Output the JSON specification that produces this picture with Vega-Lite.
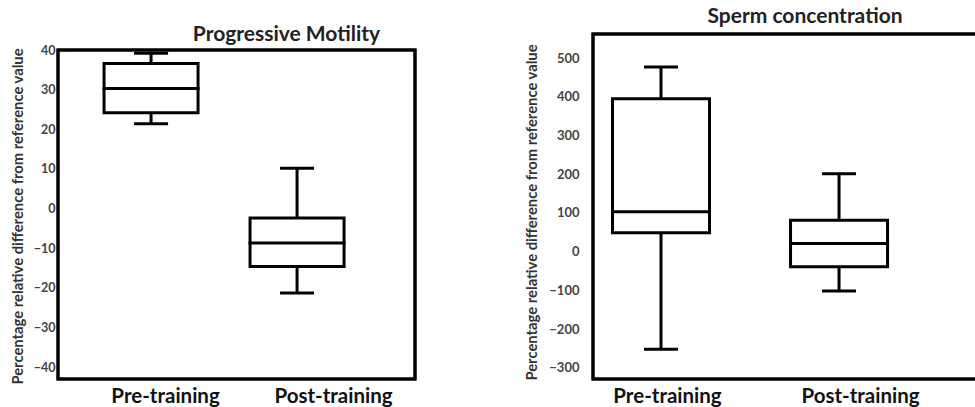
{
  "$schema": "https://vega.github.io/schema/vega-lite/v6.json",
  "padding": {"left": 10, "top": 5, "right": 0, "bottom": 0},
  "spacing": 107,
  "config": {
    "font": "Lato",
    "view": {"stroke": null},
    "title": {"font": "Lato", "fontWeight": "bold", "fontSize": 21, "color": "#222"},
    "axis": {"grid": false, "domain": false, "ticks": false, "labelFont": "Lato", "titleFont": "Lato"}
  },
  "hconcat": [
    {
      "width": 357,
      "height": 345,
      "title": {"text": "Progressive Motility", "dx": 50, "dy": 19, "anchor": "middle", "offset": 8},
      "data": {"values": [
        {"group": "Pre-training", "min": 21.4, "q1": 24.2, "median": 30.3, "q3": 36.6, "max": 39.2},
        {"group": "Post-training", "min": -21.3, "q1": -14.6, "median": -8.7, "q3": -2.4, "max": 10.2}
      ]},
      "layer": [
        {"mark": {"type": "rect", "fillOpacity": 0, "stroke": "black", "strokeWidth": 3},
         "encoding": {"y": {"datum": 40, "type": "quantitative", "scale": {"domain": [-43, 44.04], "nice": false, "zero": false},
           "axis": {"values": [-40, -30, -20, -10, 0, 10, 20, 30, 40], "labelFontSize": 12.5, "labelFontWeight": "bold", "labelColor": "#444", "labelPadding": 3,
             "title": "Percentage relative difference from reference value", "titleFontSize": 14.8, "titleFontWeight": "bold", "titleColor": "#333", "titlePadding": 8, "titleY": 182}},
           "y2": {"datum": -43}}},
        {"mark": {"type": "rule", "strokeWidth": 3, "color": "black"},
         "encoding": {
           "x": {"field": "group", "type": "nominal", "sort": ["Pre-training", "Post-training"],
             "scale": {"type": "point", "padding": 0.7226, "align": 0.441},
             "axis": {"title": null, "labelAngle": 0, "labelFontSize": 20.5, "labelFontWeight": "bold", "labelColor": "#111", "labelPadding": 7,
               "labelOffset": {"expr": "datum.value === 'Pre-training' ? 14 : 36"}}},
           "y": {"field": "min", "type": "quantitative"}, "y2": {"field": "q1"}}},
        {"mark": {"type": "rule", "strokeWidth": 3, "color": "black"},
         "encoding": {"x": {"field": "group", "type": "nominal", "sort": ["Pre-training", "Post-training"]},
           "y": {"field": "q3", "type": "quantitative"}, "y2": {"field": "max"}}},
        {"mark": {"type": "tick", "size": 34, "thickness": 3, "color": "black", "opacity": 1},
         "encoding": {"x": {"field": "group", "type": "nominal", "sort": ["Pre-training", "Post-training"]},
           "y": {"field": "min", "type": "quantitative"}}},
        {"mark": {"type": "tick", "size": 34, "thickness": 3, "color": "black", "opacity": 1},
         "encoding": {"x": {"field": "group", "type": "nominal", "sort": ["Pre-training", "Post-training"]},
           "y": {"field": "max", "type": "quantitative"}}},
        {"mark": {"type": "bar", "size": 94, "fill": "white", "stroke": "black", "strokeWidth": 3},
         "encoding": {"x": {"field": "group", "type": "nominal", "sort": ["Pre-training", "Post-training"]},
           "y": {"field": "q1", "type": "quantitative"}, "y2": {"field": "q3"}}},
        {"mark": {"type": "tick", "size": 97, "thickness": 3, "color": "black", "opacity": 1},
         "encoding": {"x": {"field": "group", "type": "nominal", "sort": ["Pre-training", "Post-training"]},
           "y": {"field": "median", "type": "quantitative"}}}
      ]
    },
    {
      "width": 386,
      "height": 345,
      "title": {"text": "Sperm concentration", "dx": 19, "dy": 2, "anchor": "middle", "offset": 8},
      "data": {"values": [
        {"group": "Pre-training", "min": -252, "q1": 49, "median": 103, "q3": 395, "max": 477},
        {"group": "Post-training", "min": -102, "q1": -39, "median": 21, "q3": 81, "max": 201}
      ]},
      "layer": [
        {"mark": {"type": "rect", "fillOpacity": 0, "stroke": "black", "strokeWidth": 3},
         "encoding": {"y": {"datum": 562, "type": "quantitative", "scale": {"domain": [-329, 562], "nice": false, "zero": false},
           "axis": {"values": [-300, -200, -100, 0, 100, 200, 300, 400, 500], "labelFontSize": 13, "labelFontWeight": "bold", "labelColor": "#444", "labelPadding": 14,
             "title": "Percentage relative difference from reference value", "titleFontSize": 14.8, "titleFontWeight": "bold", "titleColor": "#333", "titlePadding": 9, "titleY": 178}},
           "y2": {"datum": -329}}},
        {"mark": {"type": "rule", "strokeWidth": 3, "color": "black"},
         "encoding": {
           "x": {"field": "group", "type": "nominal", "sort": ["Pre-training", "Post-training"],
             "scale": {"type": "point", "padding": 0.584, "align": 0.327},
             "axis": {"title": null, "labelAngle": 0, "labelFontSize": 20.5, "labelFontWeight": "bold", "labelColor": "#111", "labelPadding": 7,
               "labelOffset": {"expr": "datum.value === 'Pre-training' ? 6 : 21"}}},
           "y": {"field": "min", "type": "quantitative"}, "y2": {"field": "q1"}}},
        {"mark": {"type": "rule", "strokeWidth": 3, "color": "black"},
         "encoding": {"x": {"field": "group", "type": "nominal", "sort": ["Pre-training", "Post-training"]},
           "y": {"field": "q3", "type": "quantitative"}, "y2": {"field": "max"}}},
        {"mark": {"type": "tick", "size": 34, "thickness": 3, "color": "black", "opacity": 1},
         "encoding": {"x": {"field": "group", "type": "nominal", "sort": ["Pre-training", "Post-training"]},
           "y": {"field": "min", "type": "quantitative"}}},
        {"mark": {"type": "tick", "size": 34, "thickness": 3, "color": "black", "opacity": 1},
         "encoding": {"x": {"field": "group", "type": "nominal", "sort": ["Pre-training", "Post-training"]},
           "y": {"field": "max", "type": "quantitative"}}},
        {"mark": {"type": "bar", "size": 97, "fill": "white", "stroke": "black", "strokeWidth": 3},
         "encoding": {"x": {"field": "group", "type": "nominal", "sort": ["Pre-training", "Post-training"]},
           "y": {"field": "q1", "type": "quantitative"}, "y2": {"field": "q3"}}},
        {"mark": {"type": "tick", "size": 100, "thickness": 3, "color": "black", "opacity": 1},
         "encoding": {"x": {"field": "group", "type": "nominal", "sort": ["Pre-training", "Post-training"]},
           "y": {"field": "median", "type": "quantitative"}}}
      ]
    }
  ]
}
